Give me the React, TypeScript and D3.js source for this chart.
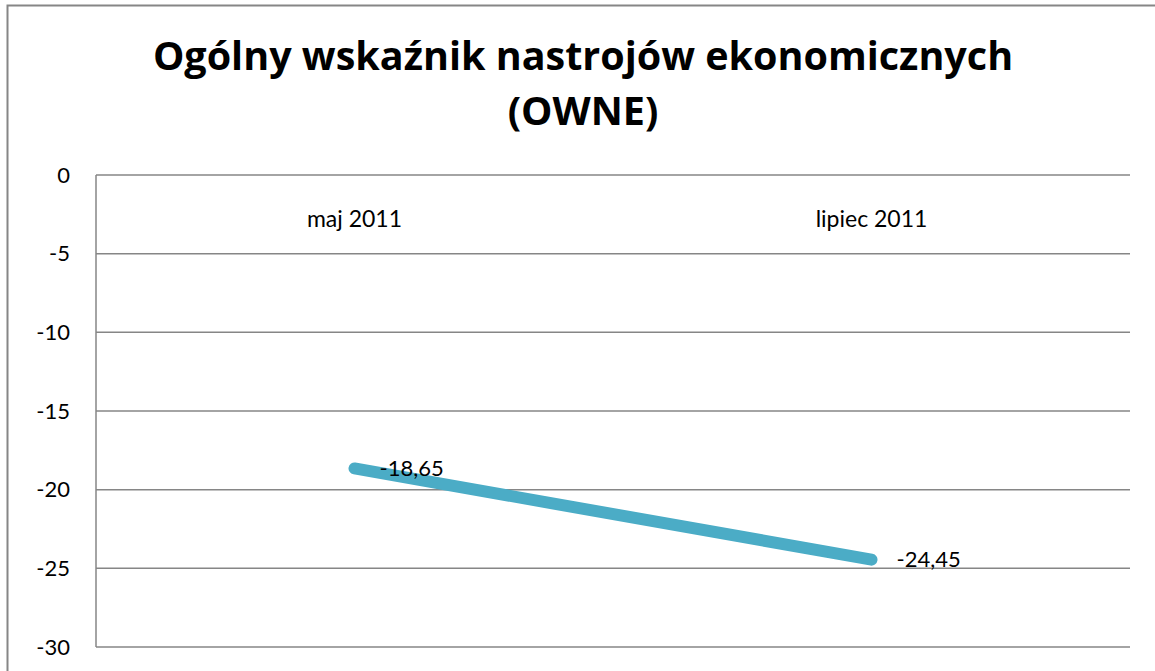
import React from "react";
import * as d3 from "d3";

const categories = ["maj 2011", "lipiec 2011"];
const values = [-18.65, -24.45];
const valueLabels = ["-18,65", "-24,45"];
const yTicks = [0, -5, -10, -15, -20, -25, -30];
const titleLines = ["Ogólny wskaźnik nastrojów ekonomicznych", "(OWNE)"];

const W = 1155;
const H = 671;
const margin = { top: 175, right: 25, bottom: 24, left: 96 };
const FONT = "Lato, 'Open Sans', sans-serif";
const TITLE_FONT = "'Open Sans', Lato, sans-serif";

export default function App() {
  const innerBottom = H - margin.bottom;
  const innerRight = W - margin.right;

  const x = d3
    .scaleBand<string>()
    .domain(categories)
    .range([margin.left, innerRight]);
  const y = d3.scaleLinear().domain([-30, 0]).range([innerBottom, margin.top]);

  const line = d3
    .line<number>()
    .x((d, i) => x(categories[i])! + x.bandwidth() / 2)
    .y((d) => y(d));

  return (
    <svg
      width={W}
      height={H}
      style={{ position: "absolute", left: 0, top: 0, background: "#fff" }}
      fontFamily={FONT}
    >
      {/* outer chart border, cut off on the right and bottom */}
      <rect x={7.5} y={5.5} width={1170} height={700} fill="#fff" stroke="#868686" strokeWidth={2} />

      {titleLines.map((t, i) => (
        <text
          key={t}
          x={583}
          y={70 + i * 55}
          textAnchor="middle"
          fontSize={39.5}
          fontWeight="bold"
          fontFamily={TITLE_FONT}
          fill="#000"
        >
          {t}
        </text>
      ))}

      {/* gridlines */}
      {yTicks.map((t) => (
        <line
          key={t}
          x1={margin.left}
          x2={innerRight}
          y1={y(t)}
          y2={y(t)}
          stroke="#868686"
          strokeWidth={1.5}
        />
      ))}
      <line
        x1={margin.left}
        x2={margin.left}
        y1={y(0)}
        y2={y(-30)}
        stroke="#868686"
        strokeWidth={1.5}
      />

      {/* y tick labels */}
      {yTicks.map((t) => (
        <text
          key={"l" + t}
          x={70}
          y={y(t)}
          dy="0.35em"
          textAnchor="end"
          fontSize={22}
          fill="#000"
        >
          {t}
        </text>
      ))}

      {/* category labels, sitting under the 0 line */}
      {categories.map((c) => (
        <text
          key={c}
          x={x(c)! + x.bandwidth() / 2}
          y={227}
          textAnchor="middle"
          fontSize={23}
          fill="#000"
        >
          {c}
        </text>
      ))}

      <path
        d={line(values) ?? undefined}
        fill="none"
        stroke="#4BACC6"
        strokeWidth={12}
        strokeLinecap="round"
      />

      {values.map((v, i) => (
        <text
          key={"v" + i}
          x={x(categories[i])! + x.bandwidth() / 2 + 25}
          y={y(v)}
          dy="0.35em"
          fontSize={22}
          fill="#000"
        >
          {valueLabels[i]}
        </text>
      ))}
    </svg>
  );
}
